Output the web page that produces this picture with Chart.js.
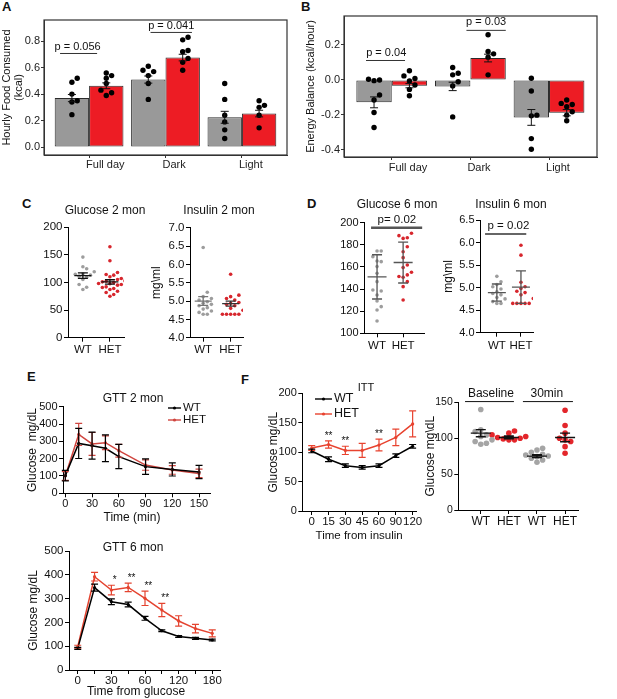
<!DOCTYPE html>
<html lang="en">
<head>
<meta charset="UTF-8">
<title>Metabolic phenotype figure</title>
<script src="https://cdn.jsdelivr.net/npm/chart.js"></script>
<style>
  body { margin: 0; background: #fff; }
  #fig { position: relative; width: 617px; height: 699px; overflow: hidden; font-family: 'Liberation Sans', Arial, sans-serif; }
  .tag { position: absolute; font-weight: bold; font-size: 13px; line-height: 1; color: #111; }
  .box { position: absolute; }
</style>
</head>
<body>
<div id="fig">
  <div class="tag" style="left:2px;top:0px">A</div>
  <div class="tag" style="left:301px;top:0px">B</div>
  <div class="tag" style="left:22px;top:197px">C</div>
  <div class="tag" style="left:307px;top:197px">D</div>
  <div class="tag" style="left:27px;top:370px">E</div>
  <div class="tag" style="left:241px;top:373px">F</div>
</div>

<script>
const FONT = "'Liberation Sans', Arial, sans-serif";
Chart.defaults.font.family = FONT;
Chart.defaults.color = '#111';

// ---- A: hourly food consumed (kcal)
const aCats = ['Full day', 'Dark', 'Light'];
const aWt = [0.37, 0.51, 0.225];
const aWtSe = [0.027, 0.027, 0.045];
const aHet = [0.463, 0.676, 0.253];
const aHetSe = [0.022, 0.025, 0.025];
const aWtPts = [[0.52, 0.49, 0.40, 0.35, 0.34, 0.245], [0.61, 0.58, 0.57, 0.54, 0.48, 0.36], [0.48, 0.36, 0.24, 0.19, 0.13, 0.065]];
const aHetPts = [[0.56, 0.54, 0.52, 0.48, 0.43, 0.41, 0.39], [0.83, 0.81, 0.73, 0.72, 0.67, 0.64, 0.58], [0.35, 0.315, 0.30, 0.24, 0.145]];
const aP = [{ cat: 0, p: 'p = 0.056', y: 0.707 }, { cat: 1, p: 'p = 0.041', y: 0.866 }];

// ---- B: energy balance (kcal/hour)
const bWt = [-0.128, -0.037, -0.214];
const bWtSe = [0.031, 0.024, 0.045];
const bHet = [-0.033, 0.125, -0.187];
const bHetSe = [0.012, 0.022, 0.018];
const bWtPts = [[0.004, 0.0, -0.004, -0.086, -0.115, -0.186, -0.272], [0.071, 0.038, 0.029, -0.01, -0.034, -0.211], [0.01, -0.063, -0.201, -0.205, -0.335, -0.396]];
const bHetPts = [[0.052, 0.023, 0.008, -0.006, -0.029, -0.054, -0.09], [0.258, 0.163, 0.149, 0.13, 0.029], [-0.115, -0.134, -0.14, -0.153, -0.182, -0.201, -0.233]];
const bP = [{ cat: 0, p: 'p = 0.04', y: 0.111 }, { cat: 1, p: 'p = 0.03', y: 0.283 }];

// ---- C / D: fasting glucose and insulin
const genotypes = ['WT', 'HET'];
const glu2Wt = [146, 128.5, 124.8, 119.4, 115.8, 115, 113.3, 111.5, 109.7, 105.5, 96.4, 91.5, 87.3];
const glu2Het = [164.8, 139.4, 118.2, 114.5, 113.3, 110.3, 107.3, 105.5, 103, 102.4, 101.2, 100, 98.2, 97.6, 96.4, 95.2, 92.1, 90.9, 89.1, 87.3, 84.2, 81.8, 78.2, 75.2];
const glu2Mean = [112.6, 101];
const glu2Sem = [5, 4];
const ins2Wt = [6.46, 5.24, 5.12, 5.07, 5.03, 4.98, 4.94, 4.91, 4.87, 4.82, 4.78, 4.73, 4.69, 4.64, 4.64];
const ins2Het = [5.73, 5.16, 5.12, 5.07, 5.03, 4.96, 4.94, 4.91, 4.87, 4.8, 4.75, 4.64, 4.64, 4.64, 4.64, 4.64];
const ins2Mean = [5.0, 4.93];
const ins2Sem = [0.12, 0.07];
const glu6Wt = [174.4, 174.4, 169.3, 165.4, 164.8, 160.3, 154.2, 146.7, 139.2, 138.3, 134.6, 129.2, 124.1, 121.1, 111.1];
const glu6Het = [190.4, 188.3, 186.4, 185.8, 178.3, 173.8, 168.4, 161.7, 159.4, 155.2, 152.8, 151.3, 150.7, 146.7, 142.2, 130.1];
const glu6Mean = [151, 164];
const glu6Sd = [20, 18.5];
const ins6Wt = [5.25, 5.13, 5.07, 5.02, 4.97, 4.91, 4.87, 4.84, 4.78, 4.75, 4.69, 4.65, 4.65];
const ins6Het = [5.94, 5.72, 5.12, 5.02, 4.98, 4.92, 4.89, 4.84, 4.76, 4.65, 4.65, 4.65, 4.65, 4.65];
const ins6Mean = [4.89, 5.01];
const ins6Sd = [0.19, 0.36];

// ---- E: glucose tolerance
const gtt2Time = [0, 15, 30, 45, 60, 90, 120, 150];
const gtt2Wt = [102, 288, 275, 260, 212, 154, 138, 123];
const gtt2WtErr = [30, 87, 78, 77, 70, 45, 38, 38];
const gtt2Het = [100, 340, 285, 292, 246, 163, 135, 115];
const gtt2HetErr = [25, 64, 66, 40, 37, 30, 25, 25];
const gtt6Time = [0, 15, 30, 45, 60, 90, 120, 150, 180];
const gtt6Shown = [0, 30, 60, 120, 180];
const gtt6Wt = [91, 346, 287, 275, 217, 165, 141, 133, 126];
const gtt6WtErr = [4, 15, 12, 10, 8, 4, 4, 4, 4];
const gtt6Het = [98, 392, 336, 347, 301, 252, 206, 174, 154];
const gtt6HetErr = [6, 18, 20, 18, 30, 28, 22, 18, 15];
const gtt6Stars = ['', '', '*', '**', '**', '**', '', '', ''];

// ---- F: insulin tolerance
const ittTime = ['0', '15', '30', '45', '60', '90', '120'];
const ittWt = [102, 88, 77, 74, 77, 94, 110];
const ittWtErr = [3, 4, 3, 3, 3, 3, 3];
const ittHet = [107, 113, 103, 103, 112, 125, 148];
const ittHetErr = [4, 6, 7, 12, 10, 14, 22];
const ittStars = ['', '**', '**', '', '**', '', ''];
const fGroups = ['WT', 'HET', 'WT', 'HET'];
const fBaseWt = [140, 111.6, 109.3, 104.6, 102.3, 97.7, 95.4, 93, 91.6];
const fBaseHet = [110, 107, 104.6, 102.3, 101, 100, 99, 97.7, 97.7];
const f30Wt = [86, 83.6, 80.4, 77.5, 76.6, 75.2, 74.3, 72, 69.6, 66.4];
const f30Het = [139, 117.6, 107, 100, 97.7, 95.4, 88.2, 79];
const fMean = [107, 101, 75, 101];
const fSem = [5, 2, 2, 6];

const GRAY = '#9d9d9d', RED = '#d7262d';

// simple beeswarm so dots with close values sit side by side
function swarm(vals, center, step, tol) {
  const placed = [];
  const out = new Array(vals.length);
  vals.map((v, i) => i).sort((a, b) => vals[a] - vals[b]).forEach(i => {
    const v = vals[i];
    for (let k = 0; k < 30; k++) {
      const x = center + (k % 2 ? 1 : -1) * Math.ceil(k / 2) * step;
      if (!placed.some(p => Math.abs(p.y - v) < tol && Math.abs(p.x - x) < step * 0.9)) {
        placed.push({ x, y: v });
        out[i] = { x, y: v };
        break;
      }
    }
  });
  return out;
}

// text, brackets and key entries
const notesPlugin = {
  id: 'notes',
  afterDraw(chart) {
    const items = chart.canvas.$notes || [];
    const box = chart.canvas.$box;
    const { ctx } = chart, sx = chart.scales.x, sy = chart.scales.y;
    items.forEach(it => {
      ctx.save();
      const col = it.color || '#111';
      ctx.fillStyle = col;
      ctx.strokeStyle = col;
      ctx.font = (it.size || 11) + 'px ' + FONT;
      ctx.textAlign = 'center';
      ctx.textBaseline = 'middle';
      if (it.kind === 'text') {
        const px = it.page ? it.page[0] - box.x : sx.getPixelForValue(it.x);
        const py = it.page ? it.page[1] - box.y : sy.getPixelForValue(it.y) + (it.dy || 0);
        ctx.fillText(it.text, px, py);
      } else if (it.kind === 'bracket') {
        const y = sy.getPixelForValue(it.y);
        ctx.strokeStyle = it.line || col;
        ctx.lineWidth = it.lw || 1;
        ctx.beginPath();
        ctx.moveTo(sx.getPixelForValue(it.x1), y);
        ctx.lineTo(sx.getPixelForValue(it.x2), y);
        ctx.stroke();
        ctx.fillText(it.text, sx.getPixelForValue(it.tx), y + it.dy);
      } else if (it.kind === 'key') {
        const ds = chart.data.datasets[it.ds];
        const px = it.page[0] - box.x, py = it.page[1] - box.y;
        ctx.strokeStyle = ds.borderColor;
        ctx.fillStyle = ds.borderColor;
        ctx.lineWidth = 1.4;
        ctx.beginPath(); ctx.moveTo(px, py); ctx.lineTo(px + it.len, py); ctx.stroke();
        ctx.beginPath(); ctx.arc(px + it.len / 2, py, 1.6, 0, Math.PI * 2); ctx.fill();
        ctx.fillStyle = '#111';
        ctx.textAlign = 'left';
        ctx.font = (it.size || 12) + 'px ' + FONT;
        ctx.fillText(ds.label, px + it.len + 2, py);
      }
      ctx.restore();
    });
  }
};

// mean +/- error whiskers
const errPlugin = {
  id: 'errbars',
  afterDatasetsDraw(chart) {
    const sets = chart.canvas.$errs || [];
    const { ctx } = chart, sx = chart.scales.x, sy = chart.scales.y;
    sets.forEach(s => {
      ctx.save();
      ctx.strokeStyle = s.color;
      ctx.lineWidth = s.lw || 1;
      s.x.forEach((xv, i) => {
        const px = sx.getPixelForValue(xv);
        const m = sy.getPixelForValue(s.y[i]);
        const hi = sy.getPixelForValue(s.y[i] + s.e[i]);
        const lo = sy.getPixelForValue(s.y[i] - s.e[i]);
        ctx.beginPath();
        ctx.moveTo(px, hi); ctx.lineTo(px, lo);
        ctx.moveTo(px - s.cap, hi); ctx.lineTo(px + s.cap, hi);
        ctx.moveTo(px - s.cap, lo); ctx.lineTo(px + s.cap, lo);
        if (s.mean) { ctx.moveTo(px - s.mean, m); ctx.lineTo(px + s.mean, m); }
        ctx.stroke();
      });
      ctx.restore();
    });
  }
};

// ggplot style panel border
const framePlugin = {
  id: 'frame',
  afterDraw(chart) {
    const col = chart.canvas.$frame;
    if (!col) return;
    const { left, top, right, bottom } = chart.chartArea;
    const ctx = chart.ctx;
    ctx.save();
    ctx.strokeStyle = col;
    ctx.lineWidth = 1.2;
    ctx.strokeRect(left, top, right - left, bottom - top);
    ctx.restore();
  }
};
Chart.register(notesPlugin, errPlugin, framePlugin);

function build(box, area, cfg, extra) {
  const wrap = document.createElement('div');
  wrap.className = 'box';
  wrap.style.left = box.x + 'px';
  wrap.style.top = box.y + 'px';
  wrap.style.width = box.w + 'px';
  wrap.style.height = box.h + 'px';
  const cv = document.createElement('canvas');
  wrap.appendChild(cv);
  document.getElementById('fig').appendChild(wrap);
  cv.$box = box;
  cv.$notes = extra.notes || [];
  cv.$errs = extra.errs || [];
  cv.$frame = extra.frame;
  const o = cfg.options;
  o.responsive = true;
  o.maintainAspectRatio = false;
  o.animation = false;
  o.events = [];
  o.layout = { padding: { left: 0, top: area.t - box.y, right: box.x + box.w - area.r, bottom: 0 } };
  o.scales.x.afterFit = s => { s.height = box.y + box.h - area.b; };
  o.scales.y.afterFit = s => { s.width = area.l - box.x; };
  o.plugins = { legend: { display: false }, tooltip: { enabled: false } };
  return new Chart(cv, cfg);
}

function gpY(min, max, step, title, fmt, size) {
  return {
    type: 'linear', min, max,
    ticks: { stepSize: step, includeBounds: false, color: '#111', font: { size: size || 11 }, padding: 1.5, callback: fmt || (v => v) },
    grid: { drawOnChartArea: false, tickLength: 4, color: '#000' },
    border: { color: '#000' },
    title: title ? { display: true, text: title, font: { size: 12 }, padding: 0, color: '#111' } : { display: false }
  };
}
function gpX(min, max, step, fmt, size, pad) {
  return {
    type: 'linear', min, max, offset: false,
    ticks: { stepSize: step, includeBounds: false, autoSkip: false, maxRotation: 0, minRotation: 0, color: '#111', font: { size: size || 11.5 }, padding: pad || 0, callback: fmt },
    grid: { drawOnChartArea: false, tickLength: 4, color: '#000', offset: false },
    border: { color: '#000' }
  };
}
const geno = v => genotypes[v] ?? '';
const dots = (pts, color, r) => ({ type: 'scatter', data: pts, backgroundColor: color, pointRadius: r, borderWidth: 0 });

// ---------- A / B helpers ----------
function ggBars(wt, het, wtPts, hetPts, step, tol) {
  const pts = wtPts.flatMap((g, i) => swarm(g, i - 0.225, step, tol))
    .concat(hetPts.flatMap((g, i) => swarm(g, i + 0.225, step, tol)));
  const bar = (vals, color, label) => ({
    type: 'bar', label, data: vals.map((v, i) => ({ x: i, y: v })),
    backgroundColor: color, borderColor: '#2b2b2b', borderWidth: 1, borderSkipped: false,
    categoryPercentage: 0.9, barPercentage: 1, order: 2
  });
  return [bar(wt, '#999999', 'WT'), bar(het, '#ed1c24', 'HET'),
    { type: 'scatter', data: pts, backgroundColor: '#000', pointRadius: 2.7, borderWidth: 0, order: 0 }];
}
function ggX(min, max, pad) {
  return {
    type: 'linear', min, max, offset: false,
    ticks: { stepSize: 1, includeBounds: false, autoSkip: false, maxRotation: 0, callback: v => aCats[v] ?? '', align: 'start', labelOffset: -3, font: { size: 11 }, color: '#222', padding: pad },
    grid: { drawOnChartArea: false, tickLength: 3, color: '#333', offset: false },
    border: { color: '#333' }
  };
}
function ggY(min, max, title, lh) {
  return {
    type: 'linear', min, max,
    ticks: { stepSize: 0.2, includeBounds: false, callback: v => v.toFixed(1), font: { size: 11 }, color: '#222', padding: 1 },
    grid: { drawOnChartArea: false, tickLength: 3, color: '#333' },
    border: { color: '#333' },
    title: { display: true, text: title, font: { size: 11, lineHeight: lh }, padding: 0, color: '#111' }
  };
}

// ---------- A ----------
build({ x: 1, y: 8, w: 300, h: 168 }, { l: 44, t: 20, r: 287, b: 155 }, {
  type: 'bar',
  data: { datasets: ggBars(aWt, aHet, aWtPts, aHetPts, 0.07, 0.04) },
  options: { scales: { x: ggX(-0.59, 2.59, 0), y: ggY(-0.06, 0.96, ['Hourly Food Consumed', '(kcal)'], 1.1) } }
}, {
  frame: '#333',
  errs: [{ x: [-0.225, 0.775, 1.775], y: aWt, e: aWtSe, color: '#111', cap: 4 },
         { x: [0.225, 1.225, 2.225], y: aHet, e: aHetSe, color: '#111', cap: 4 }],
  notes: [
    { kind: 'bracket', x1: aP[0].cat - 0.38, x2: aP[0].cat + 0.105, y: aP[0].y, text: aP[0].p, tx: aP[0].cat - 0.15, dy: -6.5, line: '#333' },
    { kind: 'bracket', x1: aP[1].cat - 0.196, x2: aP[1].cat + 0.346, y: aP[1].y, text: aP[1].p, tx: aP[1].cat + 0.075, dy: -6, line: '#333' }
  ]
});

// ---------- B ----------
build({ x: 304, y: 8, w: 313, h: 170 }, { l: 344, t: 16, r: 597, b: 157 }, {
  type: 'bar',
  data: { datasets: ggBars(bWt, bHet, bWtPts, bHetPts, 0.07, 0.031) },
  options: { scales: { x: ggX(-0.607, 2.61, 1.5), y: ggY(-0.44, 0.365, 'Energy Balance (kcal/hour)', 1.2) } }
}, {
  frame: '#333',
  errs: [{ x: [-0.225, 0.775, 1.775], y: bWt, e: bWtSe, color: '#111', cap: 4 },
         { x: [0.225, 1.225, 2.225], y: bHet, e: bHetSe, color: '#111', cap: 4 }],
  notes: [
    { kind: 'bracket', x1: bP[0].cat - 0.327, x2: bP[0].cat + 0.169, y: bP[0].y, text: bP[0].p, tx: bP[0].cat - 0.07, dy: -7.5, line: '#333' },
    { kind: 'bracket', x1: bP[1].cat - 0.05, x2: bP[1].cat + 0.45, y: bP[1].y, text: bP[1].p, tx: bP[1].cat + 0.2, dy: -8, line: '#333' }
  ]
});

// ---------- C ----------
build({ x: 38, y: 196, w: 112, h: 164 }, { l: 68, t: 227.3, r: 124, b: 337.7 }, {
  type: 'scatter',
  data: { datasets: [dots(swarm(glu2Wt, 0, 0.14, 10), GRAY, 1.8), dots(swarm(glu2Het, 1, 0.14, 10), RED, 1.8)] },
  options: { scales: { x: gpX(-0.55, 1.52, 1, geno, 11.5, 1.4), y: gpY(0, 200, 50, null, null, 11.5) } }
}, {
  errs: [{ x: [0, 1], y: glu2Mean, e: glu2Sem, color: '#111', cap: 5, mean: 8.5, lw: 1.3 }],
  notes: [{ kind: 'text', text: 'Glucose 2 mon', page: [105, 211], size: 12 }]
});

build({ x: 149, y: 196, w: 116, h: 164 }, { l: 190, t: 227.7, r: 243, b: 337.7 }, {
  type: 'scatter',
  data: { datasets: [dots(swarm(ins2Wt, 0, 0.15, 0.14), GRAY, 1.8), dots(swarm(ins2Het, 1, 0.15, 0.14), RED, 1.8)] },
  options: { scales: { x: gpX(-0.48, 1.45, 1, geno, 11.5, 1.4), y: gpY(4, 7, 0.5, 'mg\\ml', v => v.toFixed(1), 11.5) } }
}, {
  errs: [{ x: [0], y: [ins2Mean[0]], e: [ins2Sem[0]], color: '#777', cap: 5, mean: 8.5, lw: 1.3 },
         { x: [1], y: [ins2Mean[1]], e: [ins2Sem[1]], color: '#333', cap: 5, mean: 8.5, lw: 1.3 }],
  notes: [{ kind: 'text', text: 'Insulin 2 mon', page: [219, 211], size: 12 }]
});

// ---------- D ----------
build({ x: 325, y: 196, w: 118, h: 164 }, { l: 364, t: 222.7, r: 424, b: 333.3 }, {
  type: 'scatter',
  data: { datasets: [dots(swarm(glu6Wt, 0, 0.16, 5), GRAY, 1.8), dots(swarm(glu6Het, 1, 0.16, 5), RED, 1.8)] },
  options: { scales: { x: gpX(-0.5, 1.8, 1, geno, 11.5, 1.8), y: gpY(100, 200, 20) } }
}, {
  errs: [{ x: [0, 1], y: glu6Mean, e: glu6Sd, color: '#555', cap: 5, mean: 9.5, lw: 1.3 }],
  notes: [
    { kind: 'text', text: 'Glucose 6 mon', page: [397, 205], size: 12 },
    { kind: 'bracket', x1: -0.23, x2: 1.73, y: 195.5, text: 'p= 0.02', tx: 0.76, dy: -8, lw: 2.5, line: '#555', size: 11.5 }
  ]
});

build({ x: 441, y: 196, w: 118, h: 164 }, { l: 480, t: 220, r: 533, b: 332.7 }, {
  type: 'scatter',
  data: { datasets: [dots(swarm(ins6Wt, 0, 0.17, 0.11), GRAY, 1.8), dots(swarm(ins6Het, 1, 0.17, 0.11), RED, 1.8)] },
  options: { scales: { x: gpX(-0.7, 1.5, 1, geno, 11.5, 1.8), y: gpY(4, 6.5, 0.5, 'mg\\ml', v => v.toFixed(1)) } }
}, {
  errs: [{ x: [0, 1], y: ins6Mean, e: ins6Sd, color: '#555', cap: 5, mean: 9, lw: 1.3 }],
  notes: [
    { kind: 'text', text: 'Insulin 6 mon', page: [511, 205], size: 12 },
    { kind: 'bracket', x1: -0.49, x2: 1.22, y: 6.19, text: 'p = 0.02', tx: 0.48, dy: -8, lw: 1.5, line: '#333', size: 11.5 }
  ]
});

// ---------- E ----------
const line = (label, xs, ys, color) => ({
  type: 'line', label, data: xs.map((x, i) => ({ x, y: ys[i] })),
  borderColor: color, backgroundColor: color, borderWidth: 1.5, pointRadius: 1.6, pointBorderWidth: 0, tension: 0
});
const idx6 = gtt6Time.map((t, i) => i);
const idxItt = ittTime.map((t, i) => i);
const starNotes = (stars, ys, es, dy, shift) => stars.map((s, i) => s ? { kind: 'text', text: s, x: i + shift, y: ys[i] + es[i], dy, size: 10 } : null).filter(Boolean);

build({ x: 25, y: 385, w: 215, h: 140 }, { l: 63, t: 406.7, r: 210, b: 493.3 }, {
  type: 'line',
  data: { datasets: [line('WT', gtt2Time, gtt2Wt, '#000'), line('HET', gtt2Time, gtt2Het, '#d0453f')] },
  options: { scales: { x: gpX(-2.6, 162.3, 30, v => v, 11, 0), y: gpY(0, 500, 100, 'Glucose  mg/dL') } }
}, {
  errs: [{ x: gtt2Time, y: gtt2Het, e: gtt2HetErr, color: '#d0453f', cap: 3.5, lw: 1.2 },
         { x: gtt2Time, y: gtt2Wt, e: gtt2WtErr, color: '#000', cap: 3.5, lw: 1.2 }],
  notes: [
    { kind: 'text', text: 'GTT 2 mon', page: [133, 399], size: 12 },
    { kind: 'text', text: 'Time (min)', page: [132, 518], size: 12 },
    { kind: 'key', ds: 0, page: [168, 408], len: 13, size: 11.5 },
    { kind: 'key', ds: 1, page: [168, 420], len: 13, size: 11.5 }
  ]
});

build({ x: 26, y: 538, w: 214, h: 161 }, { l: 69, t: 551, r: 220, b: 670 }, {
  type: 'line',
  data: { datasets: [line('WT', idx6, gtt6Wt, '#000'), line('HET', idx6, gtt6Het, '#e4432f')] },
  options: { scales: {
    x: gpX(-0.52, 8.46, 1, v => gtt6Shown.includes(gtt6Time[v]) ? String(gtt6Time[v]) : '', 11.5, 0),
    y: gpY(0, 500, 100, 'Glucose mg/dL', null, 11.5)
  } }
}, {
  errs: [{ x: idx6, y: gtt6Het, e: gtt6HetErr, color: '#e4432f', cap: 3.5, lw: 1.2 },
         { x: idx6, y: gtt6Wt, e: gtt6WtErr, color: '#000', cap: 3.5, lw: 1.2 }],
  notes: [
    { kind: 'text', text: 'GTT 6 mon', page: [133, 548], size: 12 },
    { kind: 'text', text: 'Time from glucose', page: [136, 692], size: 12 }
  ].concat(starNotes(gtt6Stars, gtt6Het, gtt6HetErr, -5, 0.2))
});

// ---------- F ----------
build({ x: 266, y: 380, w: 162, h: 163 }, { l: 302.3, t: 393.3, r: 416, b: 511 }, {
  type: 'line',
  data: { datasets: [line('WT', idxItt, ittWt, '#000'), line('HET', idxItt, ittHet, '#e8432f')] },
  options: { scales: {
    x: Object.assign(gpX(-0.56, 6.2, 1, v => ittTime[v] ?? '', 11.5, 0),
      { title: { display: true, text: 'Time from insulin', font: { size: 11.5 }, padding: 0, color: '#111' } }),
    y: gpY(0, 200, 50, 'Glucose mg/dL')
  } }
}, {
  errs: [{ x: idxItt, y: ittHet, e: ittHetErr, color: '#e8432f', cap: 3.5, lw: 1.2 },
         { x: idxItt, y: ittWt, e: ittWtErr, color: '#000', cap: 3.5, lw: 1.2 }],
  notes: [
    { kind: 'text', text: 'ITT', page: [366, 388], size: 11 },
    { kind: 'key', ds: 0, page: [315, 399], len: 17, size: 12.5 },
    { kind: 'key', ds: 1, page: [315, 414], len: 17, size: 12.5 }
  ].concat(starNotes(ittStars, ittHet, ittHetErr, -5, 0))
});

build({ x: 423, y: 380, w: 177, h: 160 }, { l: 458.3, t: 402.3, r: 578, b: 510 }, {
  type: 'scatter',
  data: { datasets: [
    dots(swarm(fBaseWt, 0, 0.2, 7.6), '#a5a5a5', 2.8),
    dots(swarm(fBaseHet, 1, 0.2, 7.6), '#e3262b', 2.8),
    dots(swarm(f30Wt, 2, 0.2, 7.6), '#a5a5a5', 2.8),
    dots(swarm(f30Het, 3, 0.2, 7.6), '#e3262b', 2.8)
  ] },
  options: { scales: {
    x: gpX(-0.8, 3.46, 1, v => fGroups[v] ?? '', 12, 0),
    y: gpY(0, 150, 50, 'Glucose mg\\dL', null, 10.5)
  } }
}, {
  errs: [{ x: [0, 1, 2, 3], y: fMean, e: fSem, color: '#111', cap: 5, mean: 10, lw: 1.4 }],
  notes: [
    { kind: 'bracket', x1: -0.56, x2: 1.18, y: 151, text: 'Baseline', tx: 0.36, dy: -8, size: 12 },
    { kind: 'bracket', x1: 1.5, x2: 3.28, y: 151, text: '30min', tx: 2.35, dy: -8, size: 12 }
  ]
});
</script>
</body>
</html>
